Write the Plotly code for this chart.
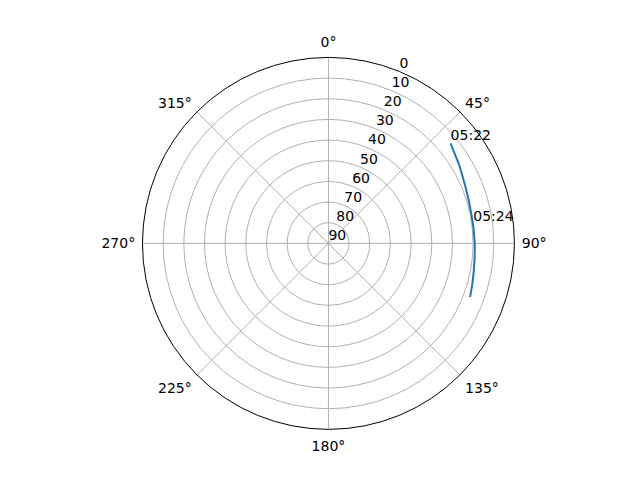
import plotly.graph_objects as go

# satellite pass: azimuth (deg) and elevation (deg)
azimuth = [50.7, 54.0, 58.7, 63.0, 67.8, 73.0, 78.5, 84.0, 90.0, 95.5, 100.9, 106.0, 110.8]
elevation = [13.6, 14.9, 16.1, 17.3, 18.3, 19.0, 19.4, 19.4, 19.2, 18.9, 18.4, 17.6, 16.7]

# time labels along the pass
label_times = ["05:22", "05:24"]
label_az = [50.7, 82.5]
label_el = [13.6, 19.3]

radial_ticks = [0, 10, 20, 30, 40, 50, 60, 70, 80, 90]
radial_label_angle = 22.5
angular_ticks = [0, 45, 90, 135, 180, 225, 270, 315]

font = dict(family="DejaVu Sans", size=14, color="black")

track = go.Scatterpolar(
    r=elevation, theta=azimuth,
    mode="lines",
    line=dict(color="#1f77b4", width=2),
    hoverinfo="none",
)

labels = go.Scatterpolar(
    r=label_el, theta=label_az,
    mode="text",
    text=label_times,
    textposition="top right",
    textfont=font,
    hoverinfo="none",
    cliponaxis=False,
)

# radial tick labels, placed like matplotlib's rlabel at 22.5 deg
rlabels = go.Scatterpolar(
    r=radial_ticks, theta=[radial_label_angle] * len(radial_ticks),
    mode="text",
    text=[str(v) for v in radial_ticks],
    textposition="top right",
    textfont=font,
    hoverinfo="none",
    cliponaxis=False,
)

# page body has an 8px margin, so the domain is nudged up/left to compensate
fig = go.Figure(data=[track, labels, rlabels])
fig.update_layout(
    width=640, height=480,
    paper_bgcolor="white",
    showlegend=False,
    font=font,
    margin=dict(l=0, r=0, t=0, b=0),
    polar=dict(
        domain=dict(x=[0.2101, 0.7913], y=[0.1221, 0.8971]),
        bgcolor="white",
        angularaxis=dict(
            rotation=90, direction="clockwise",
            tickmode="array", tickvals=angular_ticks,
            ticktext=[f"{a}°" for a in angular_ticks],
            ticks="outside", ticklen=4, tickcolor="rgba(0,0,0,0)",
            showline=True, linecolor="black", linewidth=1,
            gridcolor="#b0b0b0", gridwidth=1,
            tickfont=font,
        ),
        radialaxis=dict(
            range=[90, 0],
            tickmode="array", tickvals=radial_ticks,
            ticks="", showline=False, showticklabels=False,
            gridcolor="#b0b0b0", gridwidth=1,
        ),
    ),
)

fig.write_html("out.html")
